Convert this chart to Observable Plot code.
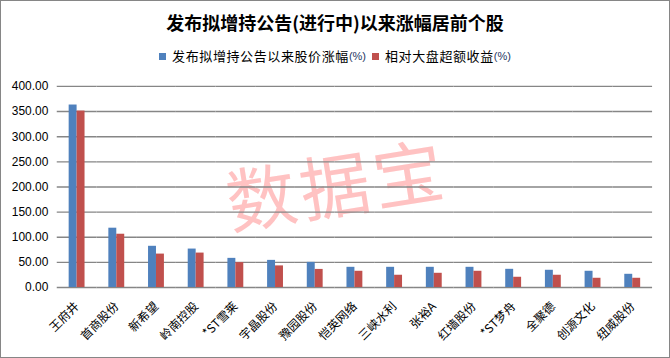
<!DOCTYPE html>
<html>
<head>
<meta charset="utf-8">
<script src="https://cdn.jsdelivr.net/npm/d3@7"></script>
<script src="https://cdn.jsdelivr.net/npm/@observablehq/plot@0.6"></script>
<style>
  html, body { margin: 0; padding: 0; background: #fff; }
  #wrap { position: relative; width: 670px; height: 358px; box-sizing: border-box; border: 1px solid #868686; background: #fff; overflow: hidden; font-family: 'Noto Sans CJK SC', sans-serif; }
  #title { position: absolute; left: 0; top: 9px; width: 100%; text-align: center; font-size: 18px; line-height: 24px; font-weight: 700; color: #000; }
  #legend { position: absolute; left: 0; top: 47px; width: 100%; display: flex; justify-content: center; align-items: center; font-size: 13px; line-height: 16px; color: #000; }
  #legend .sw { width: 7px; height: 7px; display: inline-block; margin-right: 6px; }
  #legend .item { display: flex; align-items: center; }
  #legend .pct { font-family: 'Liberation Sans', sans-serif; font-size: 11px; color: #1f3864; }
  #wm { position: absolute; left: 0; top: 146px; width: 670px; text-align: center; font-size: 70px; line-height: 70px; color: #ffc2c2; transform: rotate(-9deg); letter-spacing: 4px; }
  #chart { position: absolute; left: -1px; top: 68px; }
</style>
</head>
<body>
<div id="wrap">
  <div id="wm">数据宝</div>
  <div id="title"></div>
  <div id="legend"></div>
  <div id="chart"></div>
</div>
<script>
const titleText = "发布拟增持公告(进行中)以来涨幅居前个股";
const categories = ["王府井","首商股份","新希望","岭南控股","*ST雪莱","宇晶股份","豫园股份","恺英网络","三峡水利","张裕A","红墙股份","*ST梦舟","全聚德","创源文化","纽威股份"];
const seriesNames = ["发布拟增持公告以来股价涨幅", "相对大盘超额收益"];
const seriesUnit = "(%)";
const priceRise = [363, 118, 82, 76.5, 58, 54, 50, 40.2, 40.2, 40.2, 40.2, 36.2, 34.3, 32.3, 26.3];
const excessReturn = [351, 106, 66.5, 68.5, 49.5, 43, 36, 32.3, 24.4, 28.3, 32.3, 20.4, 24.4, 18.4, 18.4];
const yTicks = [0, 50, 100, 150, 200, 250, 300, 350, 400];
const colors = ["#4F81BD", "#C0504D"];

document.getElementById("title").textContent = titleText;
const legend = document.getElementById("legend");
seriesNames.forEach((name, i) => {
  const item = document.createElement("span");
  item.className = "item";
  if (i > 0) item.style.marginLeft = "6px";
  const sw = document.createElement("span");
  sw.className = "sw";
  sw.style.background = colors[i];
  const t = document.createElement("span");
  t.textContent = name;
  t.style.letterSpacing = "0.6px";
  const p = document.createElement("span");
  p.className = "pct";
  p.textContent = seriesUnit;
  item.append(sw, t, p);
  legend.append(item);
});

const rows = categories.flatMap((c, i) => [
  {cat: c, series: seriesNames[0], value: priceRise[i]},
  {cat: c, series: seriesNames[1], value: excessReturn[i]}
]);

const chart = Plot.plot({
  width: 672,
  height: 289,
  marginTop: 17,
  marginBottom: 70,
  marginLeft: 57,
  marginRight: 17,
  style: {background: "transparent", fontFamily: "'Liberation Sans','Noto Sans CJK SC',sans-serif", fontSize: "12px", color: "#000"},
  fx: {domain: categories, padding: 0, round: false},
  x: {domain: seriesNames, paddingInner: 0, paddingOuter: 1.5, round: false, axis: null},
  y: {domain: [0, 400]},
  color: {domain: seriesNames, range: colors},
  marks: [
    Plot.gridY(yTicks, {stroke: "#868686", strokeOpacity: 1, strokeWidth: 1.4}),
    Plot.barY(rows, {fx: "cat", x: "series", y: "value", fill: "series"}),
    Plot.axisY({ticks: yTicks, tickFormat: d3.format(".2f"), tickSize: 0, tickPadding: 9, label: null, fontSize: 12, line: true, stroke: "#868686", strokeWidth: 1.4, fill: "#000"}),
    Plot.axisFx({anchor: "bottom", tickRotate: -45, tickSize: 0, tickPadding: 17, label: null, fontSize: 12, fontFamily: "'Noto Sans CJK SC',sans-serif"})
  ]
});
document.getElementById("chart").append(chart);
</script>
</body>
</html>
